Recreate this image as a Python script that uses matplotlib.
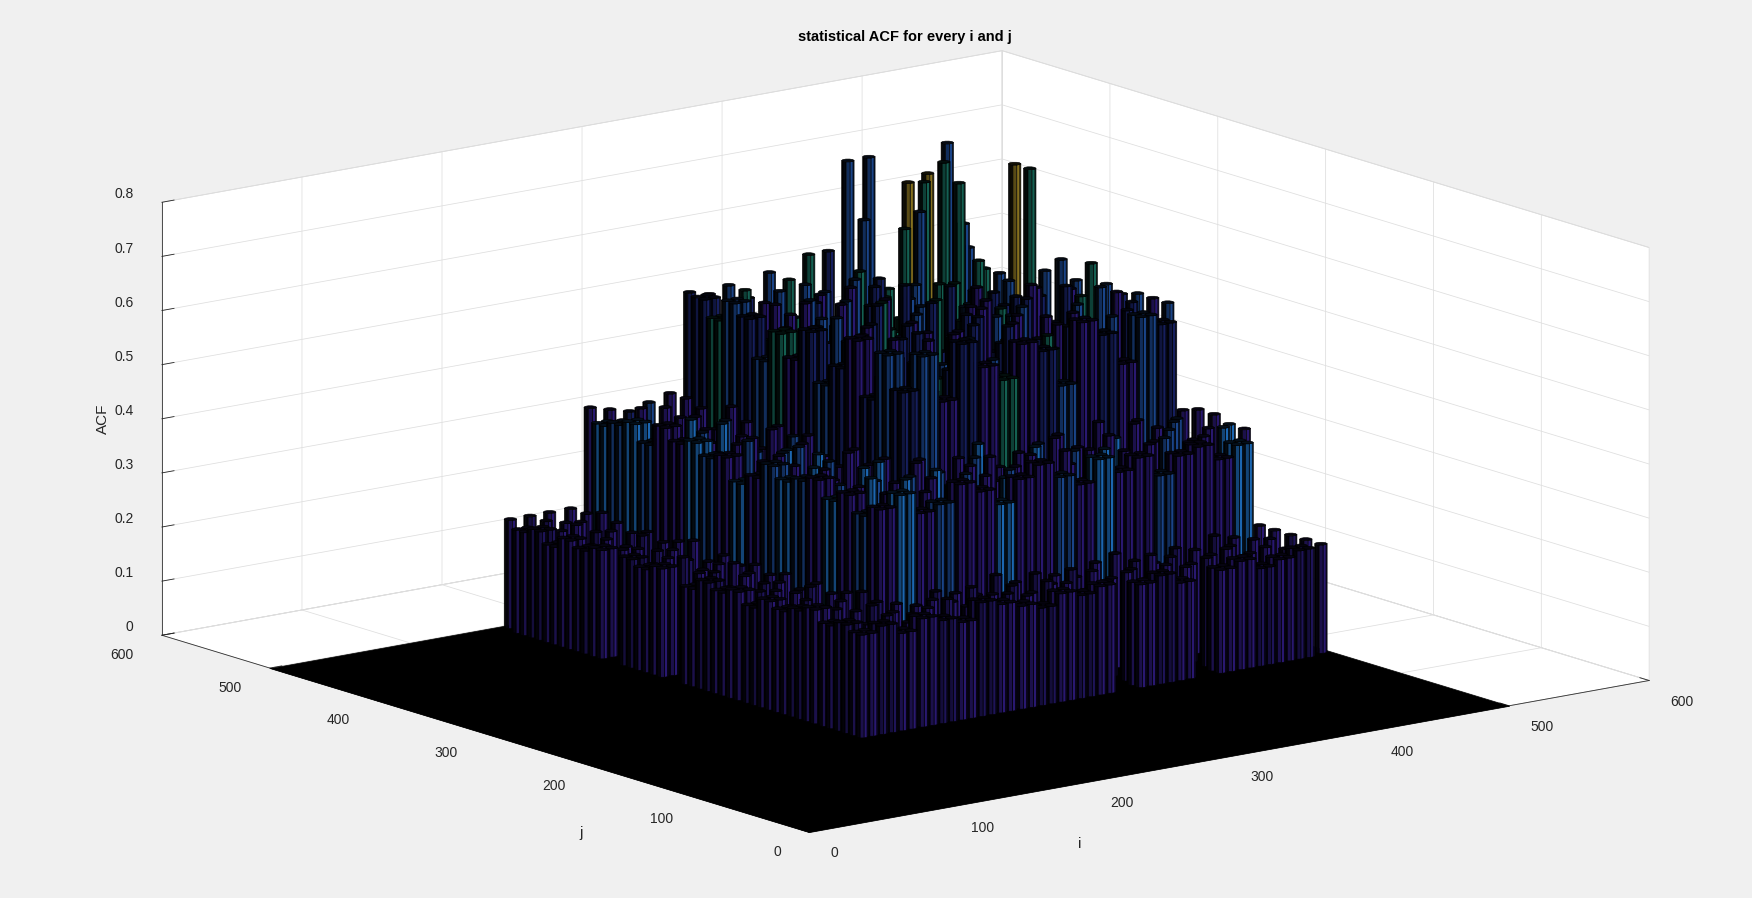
import numpy as np
import matplotlib
matplotlib.use("Agg")
import matplotlib.pyplot as plt
from mpl_toolkits.mplot3d import proj3d
from mpl_toolkits.mplot3d.art3d import Poly3DCollection

plt.rcParams['font.family'] = ['Liberation Sans', 'DejaVu Sans']

TITLE = "statistical ACF for every i and j"
I_TICKS = [0, 100, 200, 300, 400, 500, 600]
J_TICKS = [0, 100, 200, 300, 400, 500, 600]
Z_TICKS = [0, 0.1, 0.2, 0.3, 0.4, 0.5, 0.6, 0.7, 0.8]
Z_LABELS = ["0", "0.1", "0.2", "0.3", "0.4", "0.5", "0.6", "0.7", "0.8"]
FLOOR_END = 500

# lag positions of the cells (same for i and j)
lags = [168, 182, 196, 211, 225, 239, 253, 267, 282, 296, 310, 324,
        338, 353, 367, 381, 395, 409, 424, 438, 452, 466, 480, 495]

# ACF * 100, rows are j (front to back), columns are i
acf_pct = [
 [19,20,18,20,19,18,21,20,19,18,20,19,20,0,19,20,18,0,19,20,18,19,20,20],
 [20,19,20,18,20,21,19,18,20,19,21,20,18,19,20,18,20,19,20,21,19,20,19,20],
 [19,18,21,19,18,20,19,21,19,20,18,19,21,20,18,19,21,20,18,19,20,18,20,20],
 [21,20,19,20,19,18,20,19,18,21,19,20,19,18,20,21,19,18,20,19,21,20,19,20],
 [20,19,20,21,36,38,34,35,38,36,33,37,39,36,34,38,35,37,33,36,37,34,36,20],
 [19,20,18,20,34,37,39,36,33,38,37,36,34,37,39,33,38,37,35,38,34,37,38,37],
 [20,18,21,19,37,39,33,38,37,35,38,39,36,38,33,35,37,39,34,36,38,35,37,37],
 [18,20,19,20,35,33,37,36,39,37,34,38,33,35,38,39,36,33,37,39,35,38,34,38],
 [20,19,20,18,38,36,35,39,33,38,35,37,39,34,36,37,38,35,39,33,38,36,37,38],
 [19,21,19,20,37,38,33,37,38,50,56,47,57,52,49,55,53,46,57,54,48,56,54,37],
 [20,18,20,19,36,34,38,39,36,56,47,57,51,56,46,57,50,54,55,47,52,56,49,56],
 [18,20,21,20,38,37,36,33,38,47,57,52,46,56,57,50,56,48,50,56,47,54,56,56],
 [0,19,20,19,35,38,39,37,34,57,49,52,56,47,55,57,46,56,51,53,56,48,57,56],
 [20,21,18,20,33,36,37,38,35,51,56,47,54,53,48,52,57,50,56,46,50,56,57,55],
 [19,20,19,18,37,39,34,36,38,47,54,56,50,55,53,46,55,57,49,56,52,57,47,56],
 [20,18,20,21,36,33,38,39,37,56,48,50,55,47,54,57,50,55,46,52,57,49,55,59],
 [0,20,19,20,38,35,36,34,38,50,55,56,46,57,48,54,56,47,57,51,54,55,48,55],
 [20,19,21,19,37,38,39,36,33,54,47,55,57,50,56,49,54,45,50,47,51,44,52,58],
 [19,20,18,20,39,34,37,38,37,48,53,57,49,56,46,55,57,50,43,51,46,50,44,55],
 [20,18,20,19,35,37,38,33,39,55,50,54,56,47,57,53,48,53,47,54,50,45,53,73],
 [18,21,19,20,38,36,35,37,34,57,48,55,52,54,49,57,55,46,54,44,53,51,50,73],
 [20,19,20,21,37,39,33,36,37,53,55,47,56,50,54,46,57,55,47,66,52,70,55,52],
 [19,20,19,20,36,34,35,37,38,56,49,56,53,46,55,53,49,65,50,62,70,73,61,52],
 [20,20,20,20,38,37,36,37,38,56,55,56,53,57,55,59,59,75,75,50,69,70,75,55],
]

# colour class of every bar, same layout as acf_pct
tone_rows = [
 "pnppnpnppnpnpppnpnppnpnp",
 "npnppnppnpnppnpnppnpnpnp",
 "ppnpnppnpnppnppnpnppnppn",
 "pnpnppnppnpnpnppnpnpnppp",
 "nppnpcpbppcppbpcppbpppcp",
 "pnppbpcppbpcpppbcppbppcp",
 "ppnppcpbpcppbpcpppcpbppc",
 "npppcpbppcpbppcpbpcppbpp",
 "pnpnpbpcppbpcppbpppcppbp",
 "ppnpbppcpdbpdptpdbpdpbdp",
 "npppcpbppbdpdbpdptdpbdpb",
 "pnppbpcppdpbdpdbpdtpdbdp",
 "nppnppbcppbpdtpdbpdpbdpb",
 "pnppcpbppdpbdpbdpdbpdtbd",
 "ppnppbpcpbdptdpbdpbdpdpb",
 "npppbcppbdpbdtpdbpdbpdpt",
 "npnpcppbppdbpdpbtdpbdpdb",
 "ppnppbcpptdbpdtpbdtbtbdb",
 "nppnpcpbpbdpdbtpdbtbtdtb",
 "pnppbpcppdtpbdpdtbtdbtbt",
 "ppnpcpbppbdptdpbdtbdtbdy",
 "npppbpcpptdpbdpbtdtbtttb",
 "pnppcpbppdbtpdbbdbttttbt",
 "pnppppdbpdpbdbttdbbtyybb",
]
tone_colors = {"p": "#291870", "n": "#1e1458", "d": "#161f5e", "b": "#1a4488",
               "c": "#1c66b0", "t": "#146052", "y": "#85701f"}

WALL_TIERS = (0, 4, 9)
BAR_RADIUS = 3.5
CLUSTER = [(-3.5, -3.5), (3.5, -3.5), (-3.5, 3.5), (3.5, 3.5)]
N_FACETS = 10
ELEV, AZIM = 13.55, -127.6
W, H = 1752, 898
SX, SY = 1752 / 1568, 898 / 804   # reference screen units to output pixels

fig = plt.figure(figsize=(W / 100, H / 100), dpi=100, facecolor="#f0f0f0")
S = 1400
ax = fig.add_axes([(W - S) / 2 / W, (H - S) / 2 / H, S / W, S / H],
                  projection="3d", proj_type="ortho", computed_zorder=False)
ax.set_facecolor("none")
ax.view_init(elev=ELEV, azim=AZIM)
ax.set_xlim(0, 600, view_margin=0)
ax.set_ylim(0, 600, view_margin=0)
ax.set_zlim(0, 0.8, view_margin=0)
aspect = (1, 1, 0.42)
ax.set_box_aspect(aspect, zoom=1.0)


def to_px(x, y, z):
    ax.apply_aspect()
    px, py, _ = proj3d.proj_transform(x, y, z, ax.get_proj())
    return ax.transData.transform((px, py))


# fit the box to the reference
span = to_px(600, 0, 0)[0] - to_px(0, 600, 0)[0]
ax.set_box_aspect(aspect, zoom=(1476 - 145) * SX / span)
near = to_px(0, 0, 0)
target = np.array([724 * SX, H - 745 * SY])
shift = target - near
ax.set_position([((W - S) / 2 + shift[0]) / W, ((H - S) / 2 + shift[1]) / H, S / W, S / H])

# axes styling
for axis in (ax.xaxis, ax.yaxis, ax.zaxis):
    axis.set_pane_color("white")
    axis.pane.set_edgecolor("#d6d6d6")
    axis.pane.set_linewidth(0.6)
    axis.line.set_color("#303030")
    axis.line.set_linewidth(0.6)
    axis._axinfo["grid"].update(color="#dedede", linewidth=0.55)
    axis._axinfo["tick"].update(outward_factor=0.18, inward_factor=0.0)
    axis._axinfo["tick"]["linewidth"] = {True: 0.6, False: 0.5}
ax.set_xticks(I_TICKS)
ax.set_yticks(J_TICKS)
ax.set_zticks(Z_TICKS, labels=Z_LABELS)
ax.tick_params(labelsize=10, colors="#262626")
ax.xaxis.set_tick_params(pad=9.5)
ax.yaxis.set_tick_params(pad=9.5)
ax.zaxis.set_tick_params(pad=2)


def align(axis, ha, va):
    for tick in axis.get_major_ticks():
        tick.label1.set_ha(ha)
        tick.label1.set_va(va)


align(ax.xaxis, "left", "center")
align(ax.yaxis, "right", "center")
align(ax.zaxis, "right", "bottom")

# floor
fl = Poly3DCollection([[(0, 0, 0), (FLOOR_END, 0, 0), (FLOOR_END, FLOOR_END, 0), (0, FLOOR_END, 0)]],
                      facecolors="black", edgecolors="black", linewidths=0.5, zorder=1)
ax.add_collection3d(fl)

# bars
view = np.array([np.cos(np.radians(AZIM)), np.sin(np.radians(AZIM))])
right = np.array([-view[1], view[0]])
light = 0.6 * right + 0.8 * view
light /= np.linalg.norm(light)
angles = np.linspace(0, 2 * np.pi, N_FACETS + 1)
acf = np.array(acf_pct) / 100.0
last = len(lags) - 1
stems = []
for r, j in enumerate(lags):
    for c, i in enumerate(lags):
        z = acf[r, c]
        if z <= 0:
            continue
        wall = min(r, c) in WALL_TIERS and r != last and c != last
        for dx, dy in (CLUSTER if wall else [(0, 0)]):
            x, y = i + dx, j + dy
            stems.append((x * view[0] + y * view[1], x, y, z, tone_rows[r][c]))
# far to near
stems.sort(key=lambda t: t[0])
for order, (_, i, j, z, tone) in enumerate(stems):
    base = np.array(matplotlib.colors.to_rgb(tone_colors[tone]))
    polys, cols = [], []
    for a0, a1 in zip(angles[:-1], angles[1:]):
        am = (a0 + a1) / 2
        n = np.array([np.cos(am), np.sin(am)])
        if n @ view < -0.05:
            continue
        x0, y0 = i + BAR_RADIUS * np.cos(a0), j + BAR_RADIUS * np.sin(a0)
        x1, y1 = i + BAR_RADIUS * np.cos(a1), j + BAR_RADIUS * np.sin(a1)
        polys.append([(x0, y0, 0), (x1, y1, 0), (x1, y1, z), (x0, y0, z)])
        cols.append(tuple(base * max(0.06, n @ light) ** 2))
    top = [(i + BAR_RADIUS * np.cos(a), j + BAR_RADIUS * np.sin(a), z) for a in angles[:-1]]
    polys.append(top)
    cols.append(tuple(base * 0.15))
    ax.add_collection3d(Poly3DCollection(polys, facecolors=cols, edgecolors="black",
                                         linewidths=0.45, zorder=2 + order))

fig.suptitle(TITLE, x=810 * SX / W, y=1 - 33 * SY / H, fontsize=10.5, fontweight="bold",
             va="center", color="black")
fig.text(966 * SX / W, 1 - 756 * SY / H, "i", fontsize=11, ha="center", va="center", color="#262626")
fig.text(520 * SX / W, 1 - 746 * SY / H, "j", fontsize=11, ha="center", va="center", color="#262626")
fig.text(92 * SX / W, 1 - 375 * SY / H, "ACF", fontsize=11, rotation=90, ha="center", va="center", color="#262626")

fig.savefig("out.png", dpi=100, facecolor=fig.get_facecolor())
